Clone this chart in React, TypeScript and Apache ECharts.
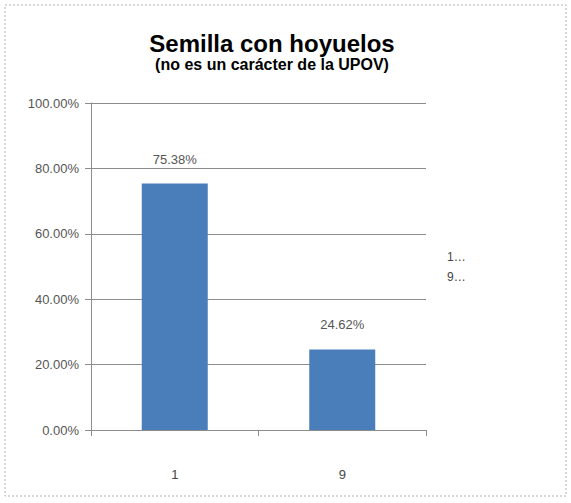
import React, { useEffect, useRef } from "react";
import * as echarts from "echarts";

const categories = ["1", "9"];
const values = [75.38, 24.62];
const legendLabels = ["1…", "9…"];
const titleText = "Semilla con hoyuelos";
const subtitleText = "(no es un carácter de la UPOV)";

export default function App() {
  const ref = useRef<HTMLDivElement>(null);
  useEffect(() => {
    if (!ref.current) return;
    const chart = echarts.init(ref.current, null, { renderer: "svg" });
    const font = "'Liberation Sans', Arial, sans-serif";
    chart.setOption({
      animation: false,
      backgroundColor: "#ffffff",
      grid: { left: 91, right: 145, top: 103, bottom: 73, containLabel: false },
      xAxis: {
        type: "category",
        data: categories,
        axisLine: { show: true, lineStyle: { color: "#8c8c8c", width: 1 } },
        axisTick: { show: true, length: 6, lineStyle: { color: "#8c8c8c" } },
        axisLabel: { margin: 38, fontSize: 13, color: "#444", fontFamily: font },
      },
      yAxis: {
        type: "value",
        min: 0,
        max: 100,
        interval: 20,
        axisLine: { show: true, lineStyle: { color: "#8c8c8c", width: 1 } },
        axisTick: { show: true, length: 6, lineStyle: { color: "#8c8c8c" } },
        axisLabel: {
          margin: 12,
          fontSize: 13,
          color: "#555",
          fontFamily: font,
          formatter: (v: number) => v.toFixed(2) + "%",
        },
        splitLine: { show: true, lineStyle: { color: "#8c8c8c", width: 1 } },
      },
      series: [
        {
          type: "bar",
          data: values,
          barWidth: 66,
          itemStyle: { color: "#4a7ebb" },
          label: {
            show: true,
            position: "top",
            distance: 18,
            fontSize: 13,
            color: "#555",
            fontFamily: font,
            formatter: (p: any) => Number(p.value).toFixed(2) + "%",
          },
        },
      ],
      graphic: [
        {
          type: "rect",
          shape: { x: 5, y: 5, width: 561, height: 491 },
          style: { fill: "none", stroke: "#b0b0b0", lineWidth: 1, lineDash: [2, 2] },
          silent: true,
        },
        {
          type: "text",
          x: 272,
          y: 55,
          style: {
            text: titleText,
            font: `bold 24px ${font}`,
            fill: "#000",
            textAlign: "center",
            textVerticalAlign: "bottom",
          },
        },
        {
          type: "text",
          x: 272,
          y: 72,
          style: {
            text: subtitleText,
            font: `bold 16px ${font}`,
            fill: "#000",
            textAlign: "center",
            textVerticalAlign: "bottom",
          },
        },
        {
          type: "text",
          x: 447,
          y: 257,
          style: {
            text: legendLabels[0],
            font: `12px ${font}`,
            fill: "#444",
            textAlign: "left",
            textVerticalAlign: "middle",
          },
        },
        {
          type: "text",
          x: 447,
          y: 277,
          style: {
            text: legendLabels[1],
            font: `12px ${font}`,
            fill: "#444",
            textAlign: "left",
            textVerticalAlign: "middle",
          },
        },
      ],
    });
    return () => chart.dispose();
  }, []);
  return (
    <div
      ref={ref}
      style={{ position: "fixed", left: 0, top: 0, width: 571, height: 503 }}
    />
  );
}
